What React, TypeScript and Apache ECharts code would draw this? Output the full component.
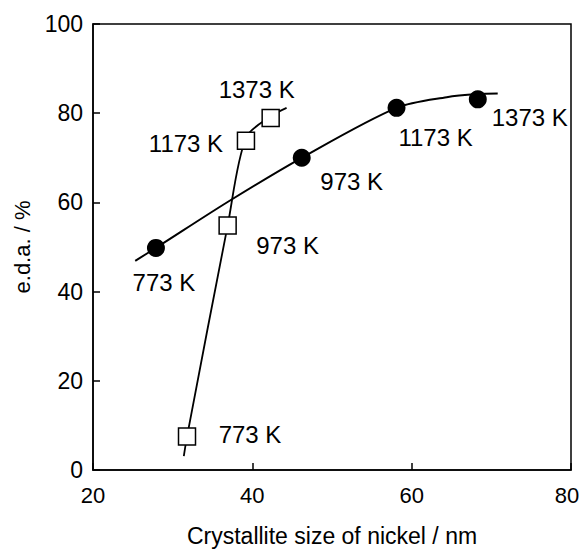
import React, { useEffect, useRef } from "react";
import * as echarts from "echarts";

const FONT = "Liberation Sans, Arial, Helvetica, sans-serif";

// Filled circles series
const circlePoints: [number, number][] = [
  [27.9, 49.8],
  [46.2, 70.0],
  [58.1, 81.2],
  [68.3, 83.1],
];
const circleLabels = ["773 K", "973 K", "1173 K", "1373 K"];
const circleLabelOffsets: [number, number][] = [
  [8, 35],
  [50, 24],
  [39, 30],
  [52, 18],
];
// fitted curve through the filled circles
const circleCurve: [number, number][] = [
  [25.3, 46.9],
  [27.9, 49.8],
  [37.0, 60.2],
  [46.2, 70.0],
  [58.1, 81.2],
  [64.4, 83.6],
  [68.3, 84.3],
  [70.8, 84.4],
];

// Open squares series
const squarePoints: [number, number][] = [
  [31.8, 7.5],
  [36.9, 54.8],
  [39.2, 73.8],
  [42.3, 78.9],
];
const squareLabels = ["773 K", "973 K", "1173 K", "1373 K"];
const squareLabelOffsets: [number, number][] = [
  [63, -2],
  [60, 20],
  [-60, 3],
  [-14, -29],
];
// fitted curve through the open squares
const squareCurve: [number, number][] = [
  [31.4, 3.1],
  [31.8, 7.5],
  [36.9, 54.8],
  [39.2, 74.5],
  [42.3, 79.3],
  [44.3, 81.2],
];

const xTicks = [20, 40, 60, 80];
const yTicks = [0, 20, 40, 60, 80, 100];

export default function App() {
  const ref = useRef<HTMLDivElement>(null);
  useEffect(() => {
    if (!ref.current) return;
    const chart = echarts.init(ref.current, undefined, { renderer: "svg" });
    const labelFor = (labels: string[], offsets: [number, number][]) =>
      (i: number) => ({
        show: true,
        formatter: labels[i],
        position: "inside" as const,
        offset: offsets[i],
        color: "#000",
        fontSize: 24,
        fontFamily: FONT,
      });
    const cl = labelFor(circleLabels, circleLabelOffsets);
    const sl = labelFor(squareLabels, squareLabelOffsets);
    chart.setOption({
      animation: false,
      backgroundColor: "#fff",
      grid: {
        left: 93,
        right: 11,
        top: 24,
        bottom: 79,
        containLabel: false,
        outerBoundsMode: "none",
        show: true,
        borderColor: "#000",
        borderWidth: 1.5,
      },
      xAxis: {
        type: "value",
        min: 20,
        max: 80,
        interval: 20,
        name: "Crystallite size of nickel / nm",
        nameLocation: "middle",
        nameGap: 56,
        nameTextStyle: { color: "#000", fontSize: 23, lineHeight: 20, fontFamily: FONT },
        axisLine: { show: true, lineStyle: { color: "#000", width: 1.5 } },
        axisTick: { show: true, inside: true, length: 7, lineStyle: { color: "#000", width: 1.5 } },
        axisLabel: {
          color: "#000",
          fontSize: 22,
          fontFamily: FONT,
          margin: 14,
          formatter: (v: number) =>
            xTicks.includes(v) ? (v === 80 ? "{r|80}" : String(v)) : "",
          rich: {
            r: { color: "#000", fontSize: 22, fontFamily: FONT, padding: [0, 8, 0, 0] },
          },
        },
        splitLine: { show: false },
      },
      yAxis: {
        type: "value",
        min: 0,
        max: 100,
        interval: 20,
        name: "e.d.a. / %",
        nameLocation: "middle",
        nameGap: 60,
        nameTextStyle: { color: "#000", fontSize: 22, fontFamily: FONT },
        axisLine: { show: true, lineStyle: { color: "#000", width: 1.5 } },
        axisTick: { show: true, inside: true, length: 7, lineStyle: { color: "#000", width: 1.5 } },
        axisLabel: {
          color: "#000",
          fontSize: 23,
          fontFamily: FONT,
          margin: 10,
          formatter: (v: number) => (yTicks.includes(v) ? String(v) : ""),
        },
        splitLine: { show: false },
      },
      series: [
        {
          type: "line",
          data: circleCurve,
          smooth: 0.3,
          showSymbol: false,
          lineStyle: { color: "#000", width: 2 },
          z: 2,
        },
        {
          type: "line",
          data: squareCurve,
          smooth: 0.3,
          showSymbol: false,
          lineStyle: { color: "#000", width: 1.8 },
          z: 2,
        },
        {
          type: "scatter",
          data: circlePoints.map((p, i) => ({ value: p, label: cl(i) })),
          symbol: "circle",
          symbolSize: 18,
          itemStyle: { color: "#000", opacity: 1 },
          z: 3,
        },
        {
          type: "scatter",
          data: squarePoints.map((p, i) => ({ value: p, label: sl(i) })),
          symbol: "rect",
          symbolSize: 17,
          itemStyle: { color: "#fff", borderColor: "#000", borderWidth: 1.5, opacity: 1 },
          z: 3,
        },
      ],
    });
    return () => chart.dispose();
  }, []);
  return <div ref={ref} style={{ width: 582, height: 549, position: "absolute", left: 0, top: 0 }} />;
}
